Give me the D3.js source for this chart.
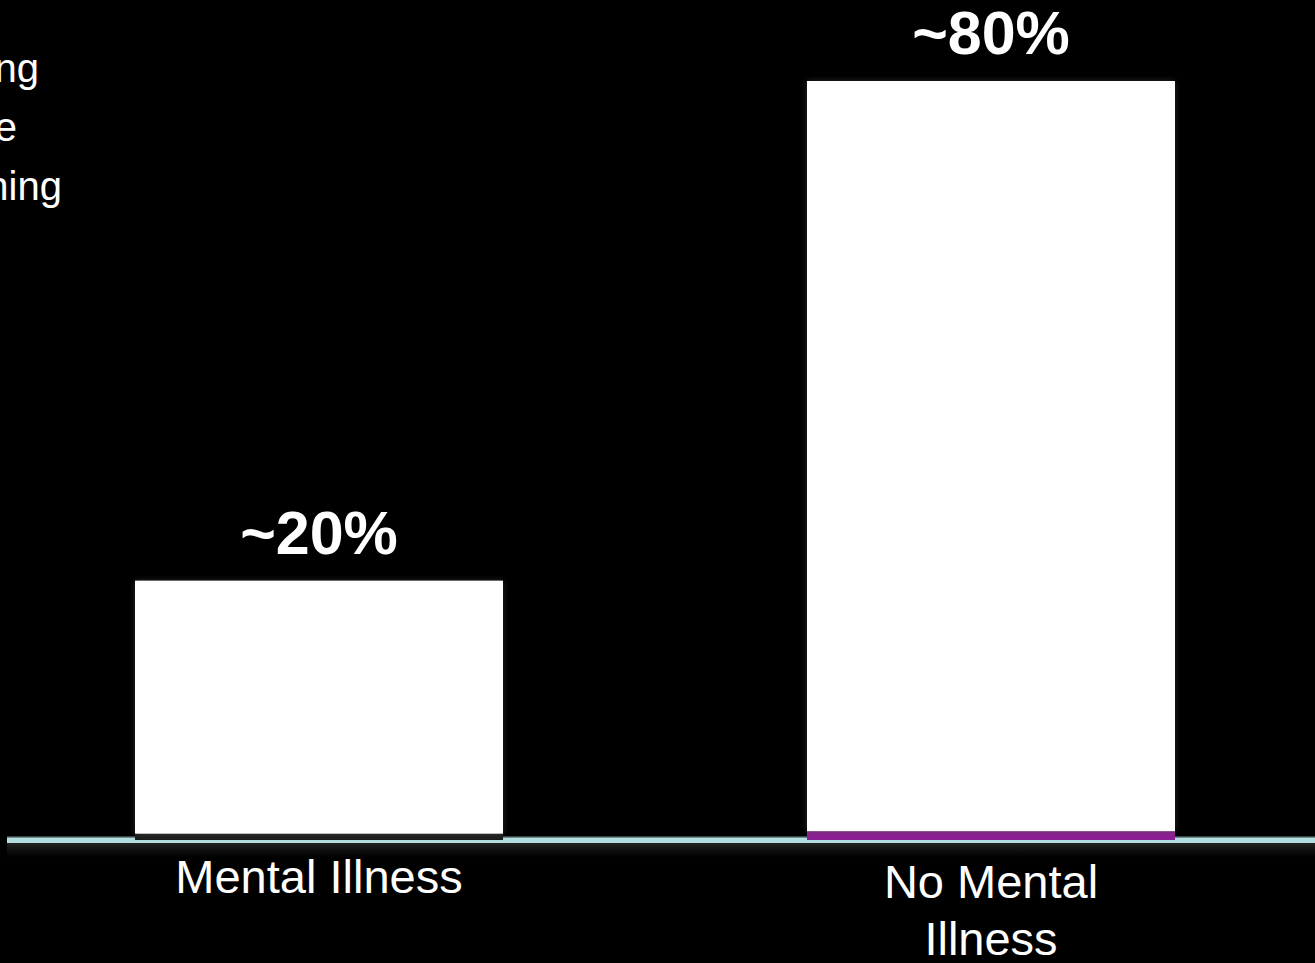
<!DOCTYPE html>
<html>
<head>
<meta charset="utf-8">
<script src="https://cdn.jsdelivr.net/npm/d3@7"></script>
<style>
  html, body { margin: 0; padding: 0; background: #000; overflow: hidden; }
  text { font-family: Arial, "Liberation Sans", sans-serif; fill: #fff; }
</style>
</head>
<body>
<script>
const categories = ["Mental Illness", "No Mental\nIllness"];
const seriesNames = ["Shooting", "Violence", "Nothing"];
// stacked from the bottom up: base strip, main bar, dark strip
const baseStrip = [0, 0.7];
const mainBar = [20, 59.3];
const darkStrip = [0.5, 0];
const barLabels = ["~20%", "~80%"];
const seriesColors = ["#8c1f93", "#ffffff", "#1c1c1c"];

const width = 1315, height = 963;

const svg = d3.select("body").append("svg")
    .attr("width", width)
    .attr("height", height);

const defs = svg.append("defs");
const shadow = defs.append("filter")
    .attr("id", "shadow")
    .attr("x", "-5%").attr("y", "-5%")
    .attr("width", "110%").attr("height", "110%");
shadow.append("feDropShadow")
    .attr("dx", 0).attr("dy", 0)
    .attr("stdDeviation", 3)
    .attr("flood-color", "#444")
    .attr("flood-opacity", 0.6);

const axisShade = defs.append("linearGradient")
    .attr("id", "axisShade")
    .attr("x1", 0).attr("y1", 0).attr("x2", 0).attr("y2", 1);
axisShade.append("stop").attr("offset", "0%").attr("stop-color", "#222");
axisShade.append("stop").attr("offset", "100%").attr("stop-color", "#000");

const x = d3.scaleBand()
    .domain(categories)
    .range([-17, 1327])
    .paddingInner(0.4524)
    .paddingOuter(0.2262);

const y = d3.scaleLinear()
    .domain([0, 60])
    .range([840, 81]);

const data = categories.map((c, i) => ({
    category: c,
    base: baseStrip[i],
    main: mainBar[i],
    dark: darkStrip[i]
}));

// order: dark strip at the bottom of bar 1, purple at the bottom of bar 2
const stack = d3.stack()
    .keys(["dark", "base", "main"]);
const stacked = stack(data);
const keyColor = { base: seriesColors[0], main: seriesColors[1], dark: seriesColors[2] };

// axis line with a soft shadow under it
svg.append("rect")
    .attr("x", 7).attr("y", 843)
    .attr("width", width - 7).attr("height", 14)
    .attr("fill", "url(#axisShade)");
svg.append("rect")
    .attr("x", 7).attr("y", 836.5)
    .attr("width", width - 7).attr("height", 1.5)
    .attr("fill", "#6d8c8e");
svg.append("rect")
    .attr("x", 7).attr("y", 838)
    .attr("width", width - 7).attr("height", 5)
    .attr("fill", "#b3dde0");

const layers = svg.append("g").attr("class", "bars")
    .selectAll("g")
    .data(stacked)
    .enter()
    .append("g")
    .attr("fill", d => keyColor[d.key])
    .attr("filter", d => d.key === "main" ? "url(#shadow)" : null);

layers.selectAll("rect")
    .data(d => d.map((v, i) => ({ v: v, cat: categories[i] })))
    .enter()
    .append("rect")
    .attr("x", d => x(d.cat))
    .attr("width", x.bandwidth())
    .attr("y", d => y(d.v[1]))
    .attr("height", d => Math.max(0, y(d.v[0]) - y(d.v[1])));

// value labels above the bars
svg.append("g").selectAll("text")
    .data(data)
    .enter()
    .append("text")
    .attr("x", d => x(d.category) + x.bandwidth() / 2)
    .attr("y", d => y(d.base + d.main + d.dark) - 27)
    .attr("text-anchor", "middle")
    .attr("font-size", 61)
    .attr("font-weight", "bold")
    .text((d, i) => barLabels[i]);

// category labels
const catLabels = svg.append("g").selectAll("text")
    .data(categories)
    .enter()
    .append("text")
    .attr("x", d => x(d) + x.bandwidth() / 2)
    .attr("y", (d, i) => i === 0 ? 893 : 898)
    .attr("text-anchor", "middle")
    .attr("font-size", 47);

catLabels.selectAll("tspan")
    .data(d => d.split("\n"))
    .enter()
    .append("tspan")
    .attr("x", function() { return this.parentNode.getAttribute("x"); })
    .attr("dy", (d, i) => i === 0 ? 0 : 57)
    .text(d => d);

// legend, cut off at the left edge
const legendRight = [39, 17, 62];
svg.append("g").attr("class", "legend")
    .selectAll("text")
    .data(seriesNames)
    .enter()
    .append("text")
    .attr("x", (d, i) => legendRight[i])
    .attr("y", (d, i) => 82 + i * 59)
    .attr("text-anchor", "end")
    .attr("font-size", 40)
    .text(d => d);
</script>
</body>
</html>
